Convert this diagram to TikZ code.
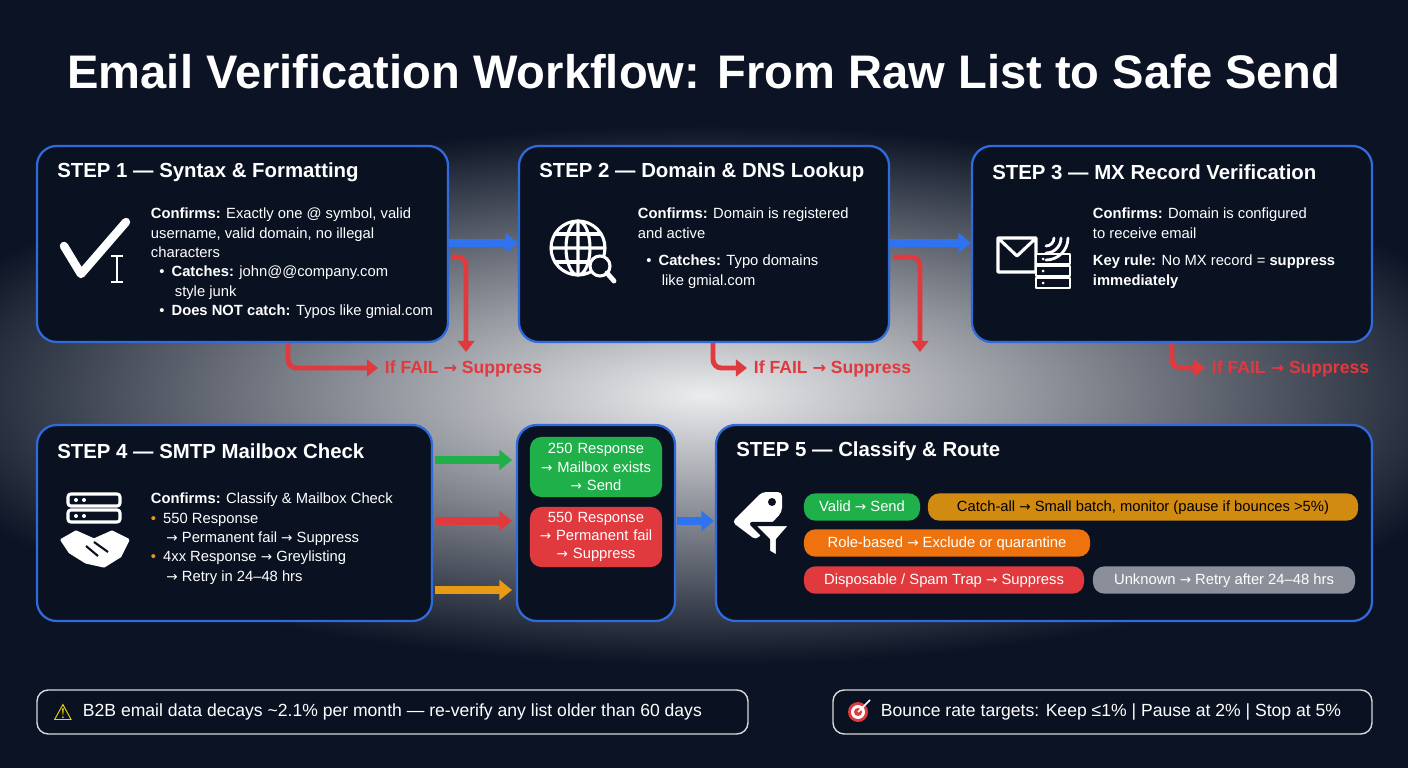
\documentclass[tikz,border=0pt]{standalone}
\usepackage{fontspec}
\setmainfont{Liberation Sans}
\newfontfamily\symfont{DejaVu Sans}
\newcommand{\goto}{{\symfont\addfontfeature{Scale=0.92}→}}
\usetikzlibrary{arrows.meta}
\definecolor{bgnavy}{HTML}{0B1324}
\definecolor{boxfill}{HTML}{0A1222}
\definecolor{boxline}{HTML}{2F6BDB}
\definecolor{flowblue}{HTML}{2F73F0}
\definecolor{failred}{HTML}{E0393E}
\definecolor{okgreen}{HTML}{1FB04A}
\definecolor{warnorange}{HTML}{E89A12}
\definecolor{pillgray}{HTML}{8A8F99}
\tikzset{
  stepbox/.style={draw=boxline, line width=1.6pt, fill=boxfill, rounded corners=14pt},
  steptitle/.style={anchor=west, inner sep=0pt, text=white, font=\fontsize{14.5}{17}\selectfont\bfseries},
  body/.style={anchor=north west, text=white, align=left, font=\fontsize{10.5}{13.8}\selectfont},
  flow/.style={-{Triangle[length=9pt,width=14pt]}, line width=5pt},
  fail/.style={-{Triangle[length=8pt,width=12pt]}, line width=3.5pt, failred, rounded corners=6pt},
  failtext/.style={anchor=west, text=failred, font=\fontsize{12.5}{15}\selectfont\bfseries},
  pill/.style={rounded corners=8pt, text=white, font=\fontsize{10.5}{13}\selectfont, inner sep=0pt},
  tag/.style={pill, minimum height=0.68cm, text height=8pt, text depth=2pt},
  note/.style={draw=white!85!black, line width=1pt, rounded corners=8pt, fill=boxfill},
  icon/.style={white, line width=2.2pt, line cap=round, line join=round}
}
\begin{document}
\begin{tikzpicture}[x=0.025cm, y=-0.025cm]
\useasboundingbox (0,0) rectangle (1408,768);
% background with glow
\fill[bgnavy] (0,0) rectangle (1408,768);
\shade[inner color=white!92!bgnavy, outer color=bgnavy] (704,395) ellipse [x radius=820, y radius=270];
\node[text=white, font=\fontsize{33.5}{38}\selectfont\bfseries] (title) at (704,72) {Email Verification Workflow: From Raw List to Safe Send};

% step boxes
\draw[stepbox] (37,146) rectangle (448,342);
\draw[stepbox] (519,146) rectangle (889,342);
\draw[stepbox] (972,146) rectangle (1372,342);
\draw[stepbox] (37,425) rectangle (432,621);
\draw[stepbox] (517,425) rectangle (675,621);
\draw[stepbox] (716,425) rectangle (1372,621);
\coordinate (s1e) at (449,243); \coordinate (s2w) at (518,243);
\coordinate (s2e) at (890,243); \coordinate (s3w) at (971,243);

\node[steptitle] (t1) at (57,172) {STEP 1 — Syntax \& Formatting};
\node[steptitle] (t2) at (539,172) {STEP 2 — Domain \& DNS Lookup};
\node[steptitle] (t3) at (992,172) {STEP 3 — MX Record Verification};
\node[steptitle] (t4) at (57,451) {STEP 4 — SMTP Mailbox Check};
\node[steptitle] (t5) at (736,451) {STEP 5 — Classify \& Route};

% texts
\node[body] (b1) at (146,203) {\textbf{Confirms:} Exactly one @ symbol, valid\\username, valid domain, no illegal\\characters\\
\hspace*{6pt}\textbullet\hspace{5pt}\textbf{Catches:} john@@company.com\\\hspace*{17pt}style junk\\
\hspace*{6pt}\textbullet\hspace{5pt}\textbf{Does NOT catch:} Typos like gmial.com};
\node[body] (b2) at (633,203) {\textbf{Confirms:} Domain is registered\\and active\\[6pt]
\hspace*{6pt}\textbullet\hspace{5pt}\textbf{Catches:} Typo domains\\\hspace*{17pt}like gmial.com};
\node[body] (b3) at (1088,203) {\textbf{Confirms:} Domain is configured\\to receive email\\[6pt]
\textbf{Key rule:} No MX record = \textbf{suppress}\\\textbf{immediately}};
\node[body] (b4) at (146,488) {\textbf{Confirms:} Classify \& Mailbox Check\\
{\color{warnorange}\textbullet}\hspace{5pt}550 Response\\\hspace*{11pt}\goto\ Permanent fail \goto\ Suppress\\
{\color{warnorange}\textbullet}\hspace{5pt}4xx Response \goto\ Greylisting\\\hspace*{11pt}\goto\ Retry in 24–48 hrs};

% flow arrows
\draw[flow, flowblue] (s1e) -- (s2w);
\draw[flow, flowblue] (s2e) -- (s3w);
\draw[fail] (452,257) -- (466,257) -- (466,352);
\draw[fail] (893,257) -- (920,257) -- (920,352);
\draw[fail] (288,343) -- (288,368) -- (378,368);
\draw[fail] (713,343) -- (713,368) -- (747,368);
\draw[fail] (1172,343) -- (1172,368) -- (1205,368);
\node[failtext] (f1) at (380,369) {If FAIL \goto\ Suppress};
\node[failtext] (f2) at (749,369) {If FAIL \goto\ Suppress};
\node[failtext] (f3) at (1207,369) {If FAIL \goto\ Suppress};

% step 4 outcomes
\draw[flow, okgreen] (435,460) -- (512,460);
\draw[flow, failred] (435,521) -- (512,521);
\draw[flow, warnorange] (435,590) -- (512,590);
\node[pill, fill=okgreen, text width=3.3cm, align=center, minimum height=1.5cm] (p250) at (596,467) {250 Response\\\goto\ Mailbox exists\\\goto\ Send};
\node[pill, fill=failred, text width=3.3cm, align=center, minimum height=1.5cm] (p550) at (596,537) {550 Response\\\goto\ Permanent fail\\\goto\ Suppress};
\draw[flow, flowblue] (677,521) -- (714,521);

% step 5 pills
\node[tag, fill=okgreen, minimum width=2.9cm] (pv) at (862,507) {Valid \goto\ Send};
\node[tag, fill=warnorange!90!black, text=black, minimum width=10.75cm] (pc) at (1143,507) {Catch-all \goto\ Small batch, monitor (pause if bounces >5\%)};
\node[tag, fill=warnorange!75!red, minimum width=7.15cm] (pr) at (947,543) {Role-based \goto\ Exclude or quarantine};
\node[tag, fill=failred, minimum width=7.0cm] (pd) at (944,580) {Disposable / Spam Trap \goto\ Suppress};
\node[tag, fill=pillgray, minimum width=6.55cm] (pu) at (1224,580) {Unknown \goto\ Retry after 24–48 hrs};

% icons
\draw[icon, line width=6pt] (64,246) -- (81,274) -- (126,222);
\draw[icon, line width=1.8pt, line cap=butt] (117,256) -- (117,282) (111,256) -- (123,256) (111,282) -- (123,282);
\draw[icon] (578,248) circle (27) (578,221) -- (578,275) (551,248) -- (605,248);
\draw[icon] (578,248) ellipse [x radius=12, y radius=27];
\draw[icon] (555,234) -- (601,234) (555,262) -- (590,262);
\draw[icon, fill=boxfill] (600,266) circle (10);
\draw[icon, line width=3.5pt] (607,273) -- (614,281);
\draw[icon] (998,238) rectangle (1036,272) (998,238) -- (1017,256) -- (1036,238);
\foreach \yy in {254,266,278} {
  \draw[icon, fill=boxfill, line width=2pt] (1036,\yy) rectangle (1070,\yy+10);
  \fill[white] (1043,\yy+5) circle (1.5);
}
\foreach \rr in {8,15,22} \draw[icon, line width=2pt] (1046,238) ++(0:\rr) arc (0:90:\rr);
\foreach \yy in {494,510} {
  \draw[icon, rounded corners=2pt] (68,\yy) rectangle (120,\yy+12);
  \fill[white] (76,\yy+6) circle (2); \fill[white] (84,\yy+6) circle (2);
}
\draw[icon, fill=white] (62,540) -- (76,532) -- (94,540) -- (112,532) -- (128,540) -- (120,556) -- (104,566) -- (86,562) -- (70,552) -- cycle;
\draw[boxfill, line width=1.5pt] (86,546) -- (98,556) (94,542) -- (108,552);
\fill[white, rounded corners=3pt] (732,522) -- (762,492) -- (782,492) -- (782,512) -- (756,540) -- cycle;
\fill[boxfill] (772,502) circle (4);
\draw[boxfill, line width=3pt, fill=white, line join=round] (752,524) -- (792,524) -- (778,540) -- (778,558) -- (768,552) -- (768,540) -- cycle;

% bottom notes
\draw[note] (37,690) rectangle (748,734);
\draw[note] (833,690) rectangle (1372,734);
\node[text=yellow!85!orange, font=\symfont\fontsize{16}{16}\selectfont] (warn) at (63,712) {⚠};
\node[anchor=west, text=white, font=\fontsize{12.5}{15}\selectfont] (n1) at (78,712) {B2B email data decays \textasciitilde 2.1\% per month — re-verify any list older than 60 days};
\fill[failred] (858,712) circle (10);
\fill[white] (858,712) circle (7);
\fill[failred] (858,712) circle (4);
\draw[white, line width=1.2pt] (858,712) -- (870,700);
\node[anchor=west, text=white, font=\fontsize{12.5}{15}\selectfont] (n2) at (876,712) {Bounce rate targets: Keep ≤1\% | Pause at 2\% | Stop at 5\%};
\end{tikzpicture}
\end{document}
